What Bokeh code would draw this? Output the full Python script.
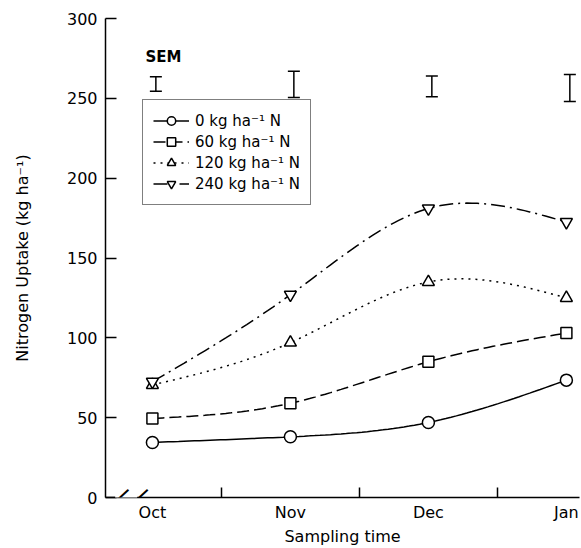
import numpy as np
from bokeh.plotting import figure
from bokeh.models import (FixedTicker, Legend, LegendItem, Label, Whisker,
                          ColumnDataSource, TeeHead, Range1d)
from bokeh.embed import file_html
from bokeh.resources import INLINE

# ---- data ----
months = ["Oct", "Nov", "Dec", "Jan"]
month_x = [0, 1, 2, 3]
n0 = [34.5, 38, 47, 73.5]
n60 = [49.5, 59, 85, 103]
n120 = [70.5, 97, 135, 125]
n240 = [72.5, 127, 181, 172.5]
sem_lo = [254.5, 250.5, 251, 248]
sem_hi = [263.5, 267, 264, 265]
series_labels = ["0 kg ha\u207b\u00b9 N", "60 kg ha\u207b\u00b9 N",
                 "120 kg ha\u207b\u00b9 N", "240 kg ha\u207b\u00b9 N"]

FONT = "DejaVu Sans"
INK = "#000000"


def natural_spline(xs, ys, n=80):
    xs = np.asarray(xs, float)
    ys = np.asarray(ys, float)
    k = len(xs)
    h = np.diff(xs)
    A = np.zeros((k, k))
    b = np.zeros(k)
    A[0, 0] = 1
    A[-1, -1] = 1
    for i in range(1, k - 1):
        A[i, i - 1] = h[i - 1]
        A[i, i] = 2 * (h[i - 1] + h[i])
        A[i, i + 1] = h[i]
        b[i] = 6 * ((ys[i + 1] - ys[i]) / h[i] - (ys[i] - ys[i - 1]) / h[i - 1])
    M = np.linalg.solve(A, b)
    xx = np.linspace(xs[0], xs[-1], n)
    yy = np.empty_like(xx)
    for j, x in enumerate(xx):
        i = min(np.searchsorted(xs, x, side="right") - 1, k - 2)
        t1 = xs[i + 1] - x
        t0 = x - xs[i]
        hi = h[i]
        yy[j] = (M[i] * t1 ** 3 / (6 * hi) + M[i + 1] * t0 ** 3 / (6 * hi)
                 + (ys[i] / hi - M[i] * hi / 6) * t1
                 + (ys[i + 1] / hi - M[i + 1] * hi / 6) * t0)
    return xx, yy


p = figure(width=581, height=548, output_backend="svg", toolbar_location=None,
           x_range=Range1d(-0.34, 3.095), y_range=Range1d(0, 300),
           min_border_left=105, min_border_right=2, min_border_top=18,
           min_border_bottom=50)
p.background_fill_color = "white"
p.border_fill_color = "white"
p.outline_line_color = None
p.grid.visible = False

styles = [
    (n0, "circle", None, 12),
    (n60, "square", "12 5", 11),
    (n120, "triangle", "2 5", 12),
    (n240, "inverted_triangle", "14 5 2 5", 12),
]

items = []
for (ys, marker, dash, size), lab in zip(styles, series_labels):
    sx, sy = natural_spline(month_x, ys)
    kw = dict(line_color=INK, line_width=1.5)
    if dash:
        kw["line_dash"] = dash
    r_line = p.line(sx, sy, **kw)
    r_pts = p.scatter(month_x, ys, marker=marker, size=size, line_color=INK,
                      line_width=1.5, fill_color="white")
    items.append(LegendItem(label=lab, renderers=[r_line, r_pts]))

# SEM bars
sem_src = ColumnDataSource(dict(x=[m + 0.025 for m in month_x], lo=sem_lo, hi=sem_hi))
w = Whisker(base="x", lower="lo", upper="hi", source=sem_src, line_color=INK,
            line_width=1.5,
            upper_head=TeeHead(size=12, line_color=INK, line_width=1.5),
            lower_head=TeeHead(size=12, line_color=INK, line_width=1.5))
p.add_layout(w)
p.add_layout(Label(x=-0.05, y=270, text="SEM", text_font=FONT, text_font_size="15px",
                   text_font_style="bold", text_color=INK, text_baseline="bottom"))

legend = Legend(items=items, location=(37, 292))
legend.label_text_font = FONT
legend.label_text_font_size = "15px"
legend.label_text_color = INK
legend.glyph_width = 36
legend.glyph_height = 21
legend.label_height = 21
legend.label_standoff = 6
legend.spacing = 0
legend.padding = 10
legend.margin = 0
legend.border_line_color = INK
legend.border_line_width = 1.5
legend.background_fill_alpha = 1
p.add_layout(legend)

# axes
xa = p.xaxis[0]
xa.ticker = FixedTicker(ticks=month_x, minor_ticks=[0.5, 1.5, 2.5])
xa.major_label_overrides = {m: lab for m, lab in zip(month_x, months)}
xa.major_tick_in = 0
xa.major_tick_out = 0
xa.minor_tick_in = 10
xa.minor_tick_out = 0
xa.major_label_standoff = 5
xa.axis_label = "Sampling time"
xa.axis_label_standoff = 2

ya = p.yaxis[0]
ya.ticker = FixedTicker(ticks=[0, 50, 100, 150, 200, 250, 300])
ya.major_tick_in = 11
ya.major_tick_out = 0
ya.minor_tick_in = 0
ya.minor_tick_out = 0
ya.major_label_standoff = 8
ya.axis_label = "Nitrogen Uptake (kg ha\u207b\u00b9)"
ya.axis_label_standoff = 32

for ax in (xa, ya):
    ax.axis_line_color = INK
    ax.axis_line_width = 1.5
    ax.major_tick_line_color = INK
    ax.major_tick_line_width = 1.5
    ax.minor_tick_line_color = INK
    ax.minor_tick_line_width = 1.5
    ax.major_label_text_font = FONT
    ax.major_label_text_font_size = "16px"
    ax.major_label_text_color = INK
    ax.axis_label_text_font = FONT
    ax.axis_label_text_font_size = "16px"
    ax.axis_label_text_font_style = "normal"
    ax.axis_label_text_color = INK

# axis break: white gap in the axis line plus two slashes
p.add_layout(Label(x=-0.19, y=0, text="\u2003\u2003", text_font_size="11px",
                   text_align="center", text_baseline="middle",
                   background_fill_color="white"))
for bx in (-0.26, -0.12):
    p.add_layout(Label(x=bx, y=0, text="\u2014", text_font="Liberation Sans",
                       text_font_size="28px", text_align="center",
                       text_baseline="middle", angle=0.75, text_color=INK))

open("out.html", "w").write(file_html(p, INLINE))
